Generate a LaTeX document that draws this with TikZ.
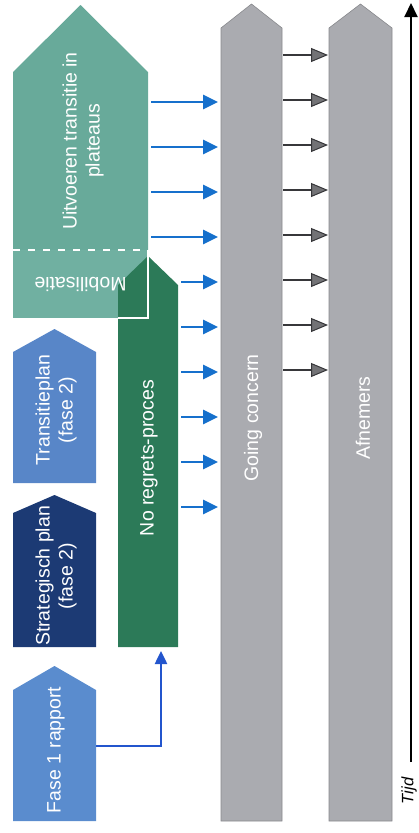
\documentclass[tikz,border=0pt]{standalone}
\usepackage{fontspec}
\setmainfont{Liberation Sans}
\usepackage{tikz}
\usetikzlibrary{positioning,arrows.meta}

\definecolor{tealc}{RGB}{104,170,154}
\definecolor{mobc}{RGB}{112,176,161}
\definecolor{greenc}{RGB}{44,122,88}
\definecolor{transc}{RGB}{88,134,200}
\definecolor{stratc}{RGB}{28,58,116}
\definecolor{fasec}{RGB}{90,140,206}
\definecolor{grayc}{RGB}{170,171,176}
\definecolor{bluec}{RGB}{22,112,204}
\definecolor{linkc}{RGB}{35,85,205}
\definecolor{arrgray}{RGB}{55,55,58}
\definecolor{tipgray}{RGB}{115,115,118}

\newcommand{\blockshape}[3]{%
	\path[#2] (#1.south west) -- (#1.north west) -- ([yshift=#3]#1.north) -- (#1.north east) -- (#1.south east) -- cycle;}

\begin{document}
\begin{tikzpicture}[x=1pt,y=-1pt]
		\useasboundingbox (0,0) rectangle (419,833);
		\begin{scope}
            [
                body/.style 2 args={minimum width=#1, minimum height=#2, inner sep=0pt, outer sep=0pt},
				colshape/.style={fill=grayc, draw=grayc!80!black, line width=0.6pt},
				lbl/.style={text=white, font=\fontsize{19.5}{23}\selectfont, align=center, inner sep=0pt},
				vlbl/.style={lbl, rotate=90},
				dashline/.style={draw=white, line width=2pt, dash pattern=on 7pt off 8pt},
            ]
			\node(uitv)[body={135pt}{178pt}] at (80.5,161) {};
			\node(mob)[body={135pt}{68pt}, below=0pt of uitv] {};
			\node(noreg)[body={60pt}{362pt}] at (148,466) {};
			\node(trans)[body={83pt}{131pt}] at (54.5,417.5) {};
			\node(strat)[body={83pt}{134pt}, below=30pt of trans] {};
			\node(fase1)[body={83pt}{131pt}, below=43pt of strat] {};
			\node(going)[body={61pt}{793pt}] at (251.5,424.5) {};
			\node(afn)[body={63pt}{793pt}, right=47pt of going] {};

			\blockshape{going}{colshape}{24pt}
			\blockshape{afn}{colshape}{24pt}
			\blockshape{uitv}{fill=tealc}{67pt}
			\fill[mobc] (mob.south west) rectangle (mob.north east);
			\blockshape{noreg}{fill=greenc}{29pt}
			\draw[white, line width=1.5pt] (noreg.west |- mob.south) -- (mob.south east) -- (mob.north east);
			\draw[dashline] (uitv.south west) -- (uitv.south east);
			\blockshape{trans}{fill=transc}{23pt}
			\blockshape{strat}{fill=stratc}{18pt}
			\blockshape{fase1}{fill=fasec}{24pt}

			\node(uitv-txt)[vlbl] at (83,141) {Uitvoeren transitie in\\plateaus};
			\node(mob-txt)[lbl, rotate=180] at (mob) {Mobilisatie};
			\node(noreg-txt)[vlbl] at (149,458) {No regrets-proces};
			\node(trans-txt)[vlbl] at (56,410) {Transitieplan\\(fase 2)};
			\node(strat-txt)[vlbl] at (56,576) {Strategisch plan\\(fase 2)};
			\node(fase1-txt)[vlbl] at (56,750) {Fase 1 rapport};
			\node(going-txt)[vlbl] at (253,418) {Going concern};
			\node(afn-txt)[vlbl] at (363,418) {Afnemers};
		\end{scope}
		\begin{scope}
            [
				bluearr/.style={draw=bluec, line width=2.8pt, -{Triangle[length=15pt,width=14pt]}, shorten <=3pt, shorten >=3pt},
				grayarr/.style={draw=arrgray, line width=2.3pt, -{Triangle[length=17pt,width=14pt,fill=tipgray,line width=1pt]}, shorten <=1pt, shorten >=1pt},
				linkarr/.style={draw=linkc, line width=2.5pt, -{Triangle[length=13pt,width=12pt]}, shorten >=4pt},
				timearr/.style={draw=black, line width=2pt, -{Triangle[length=14pt,width=13pt]}},
            ]
			\foreach \y in {102,147,192,237}
				\draw[bluearr] (uitv.east |- 0,\y) -- (going.west |- 0,\y);
			\foreach \y in {282,327,...,507}
				\draw[bluearr] (noreg.east |- 0,\y) -- (going.west |- 0,\y);
			\foreach \y in {55,100,...,370}
				\draw[grayarr] (going.east |- 0,\y) -- (afn.west |- 0,\y);

			\draw[linkarr] ([yshift=9.5pt]fase1.east) -| ([xshift=13pt]noreg.south);

			\coordinate(tbot) at (411,762);
			\coordinate(ttop) at (411,3);
			\draw[timearr] (tbot) -- (ttop);
			\node(tijd)[rotate=90, inner sep=0pt, font=\fontsize{16.5}{19}\selectfont\itshape] at (409,791) {Tijd};
		\end{scope}
\end{tikzpicture}
\end{document}
